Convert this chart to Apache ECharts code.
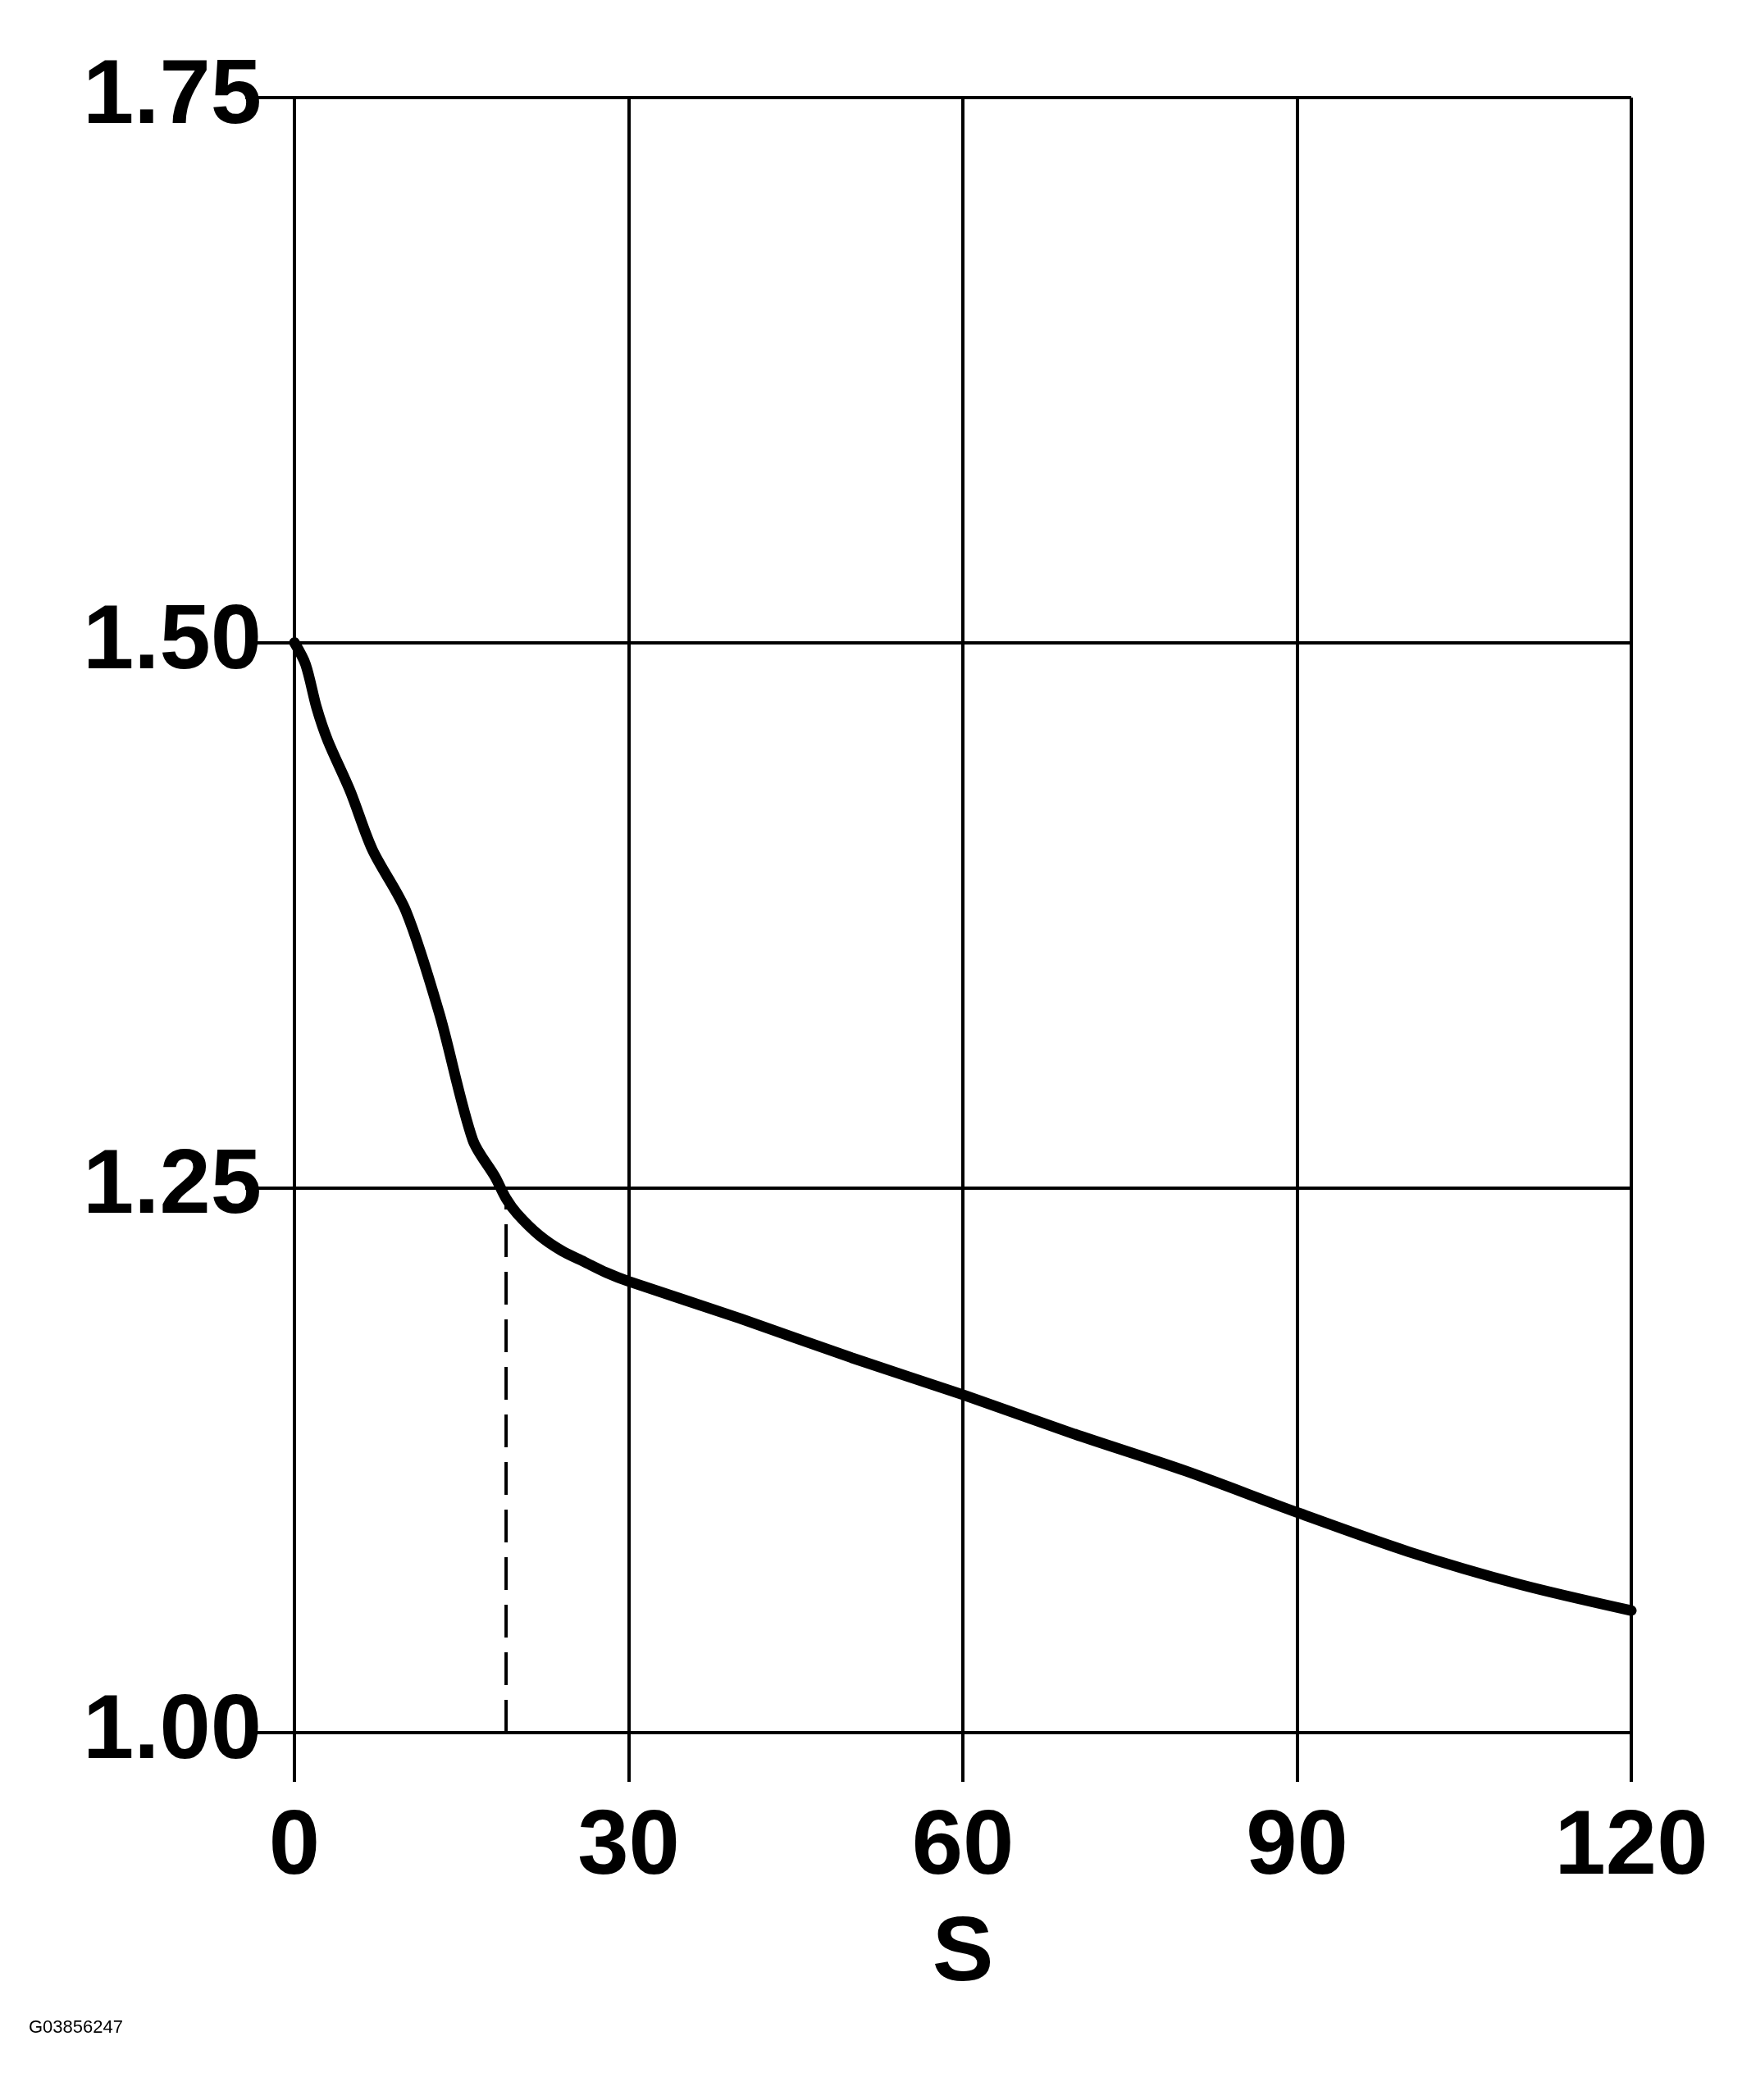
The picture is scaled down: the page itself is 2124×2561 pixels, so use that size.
<!DOCTYPE html><html><head><meta charset="utf-8"><script src="https://cdn.jsdelivr.net/npm/echarts@6/dist/echarts.min.js"></script>
<style>body{margin:0;background:#fff}#c{width:2124px;height:2561px}</style></head><body><div id="c"></div><script>
const xVals=[0,1,2,3,5,7,10,13,16,18,19,20,22,24,26,28,30,40,50,60,70,80,90,100,110,120];
const yVals=[1.50,1.49,1.47,1.455,1.432,1.405,1.377,1.33,1.272,1.255,1.245,1.238,1.228,1.221,1.216,1.211,1.207,1.19,1.172,1.155,1.137,1.12,1.101,1.083,1.068,1.056];
const dashX=19, dashTop=1.243;
const xTicks=[0,30,60,90,120];
const yTicks=[1.00,1.25,1.50,1.75];
const c=echarts.init(document.getElementById('c'));
const font={fontFamily:'Liberation Sans',fontWeight:'bold',color:'#000',fontSize:112};
c.setOption({animation:false,
grid:{left:359,right:135,top:119,bottom:448},
xAxis:{type:'value',min:0,max:120,interval:30,name:'S',nameLocation:'middle',nameGap:215,nameTextStyle:font,
axisLine:{show:false},axisTick:{show:true,length:60,lineStyle:{color:'#000',width:4}},
axisLabel:Object.assign({margin:85},font),splitLine:{show:true,lineStyle:{color:'#000',width:4}}},
yAxis:{type:'value',min:1,max:1.75,interval:0.25,axisLine:{show:false},
axisTick:{show:true,length:60,lineStyle:{color:'#000',width:4}},
axisLabel:Object.assign({margin:40,formatter:v=>v.toFixed(2)},font),splitLine:{show:true,lineStyle:{color:'#000',width:4}}},
graphic:[{type:'text',left:35,top:2462,style:{text:'G03856247',font:'22px Liberation Sans',fill:'#000'}}],
series:[{type:'line',data:xVals.map((x,i)=>[x,yVals[i]]),smooth:0.3,symbol:'none',lineStyle:{color:'#000',width:13,cap:'round'}},
{type:'line',data:[[dashX,1],[dashX,dashTop]],symbol:'none',lineStyle:{color:'#000',width:4,type:[40,18]}}]});
</script></body></html>
